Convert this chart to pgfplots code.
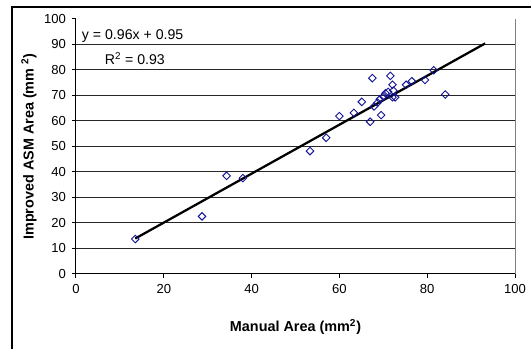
\documentclass[border=0pt]{standalone}
\usepackage{fontspec}
\setmainfont{Liberation Sans}
\usepackage{pgfplots}
\pgfplotsset{compat=1.18}
\definecolor{ptblue}{RGB}{20,20,150}
\begin{document}
\begin{tikzpicture}[x=0.75pt,y=0.75pt]
\clip (-76,-75) rectangle (455,274);
\draw[black, line width=0.8pt] (-64,-95) rectangle (475,267);
\begin{axis}[
  at={(0,0)}, anchor=origin,
  scale only axis,
  width=329.25pt, height=191.25pt,
  xmin=0, xmax=100, ymin=0, ymax=100,
  xtick={0,20,...,100}, ytick={0,10,...,100},
  axis lines=left,
  axis line style={-, black, line width=0.75pt},
  tick align=outside,
  major tick length=3pt,
  tick style={black, line width=0.75pt},
  extra y ticks={10,20,...,90},
  extra y tick labels={},
  extra y tick style={grid=major, major tick length=0pt},
  grid style={black!85, line width=0.75pt},
  /pgf/number format/assume math mode=true,
  ticklabel style={font=\fontsize{9.8}{11}\selectfont},
  xticklabel style={yshift=-1pt},
  yticklabel style={xshift=-1pt},
  xlabel={\bfseries Manual Area (mm\textsuperscript{2})},
  ylabel={\bfseries Improved ASM Area (mm \textsuperscript{2})},
  every axis x label/.style={at={(axis cs:50,0)}, yshift=-39.75pt, anchor=center, font=\fontsize{10.8}{12}\selectfont},
  every axis y label/.style={at={(axis cs:0,50)}, xshift=-35.25pt, rotate=90, anchor=center, font=\fontsize{10.8}{12}\selectfont},
  clip=false,
]
\draw[gray, line width=0.75pt] (axis cs:100,0) -- (axis cs:100,100);
\addplot[only marks, mark=square, mark size=2pt, ptblue, mark options={rotate=45, line width=0.7pt}] coordinates {
(13.5,13.7) (28.7,22.6) (34.3,38.5) (38.0,37.6) (53.3,48.2) (57.0,53.4)
(60.0,61.9) (63.3,63.2) (65.1,67.5) (67.0,59.7) (67.5,76.8) (69.5,62.3)
(67.9,65.7) (68.7,67.2) (69.2,68.5) (70.0,69.6) (70.5,70.9) (71.1,71.4)
(71.6,77.7) (72.1,74.2) (72.3,71.9) (72.1,69.3) (72.7,69.3) (75.2,74.2)
(76.5,75.6) (79.5,76.1) (81.5,79.9) (84.1,70.4)
};
\addplot[black, line width=1.7pt] coordinates {(13.5,13.91) (93.2,90.42)};
\node[anchor=west, font=\fontsize{10.6}{12}\selectfont, inner sep=0pt] at (axis cs:1.3,93.5) {y = 0.96x + 0.95};
\node[anchor=west, font=\fontsize{10.6}{12}\selectfont, inner sep=0pt] at (axis cs:6.5,84.5) {R\textsuperscript{2} = 0.93};
\end{axis}
\end{tikzpicture}
\end{document}
